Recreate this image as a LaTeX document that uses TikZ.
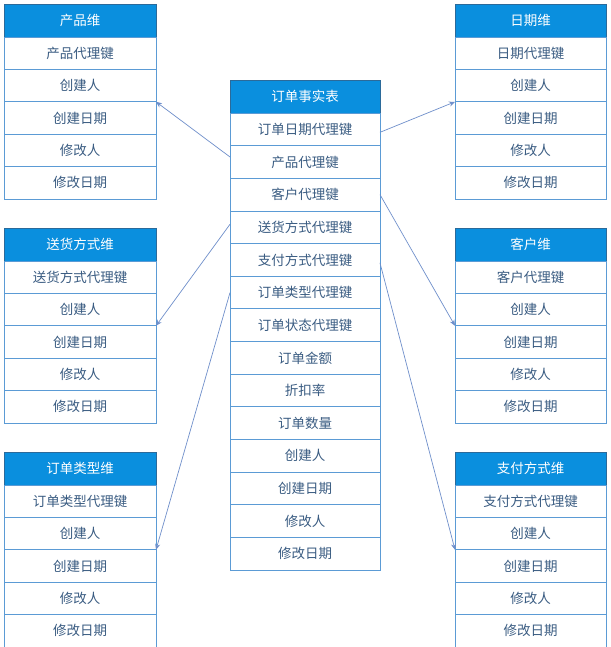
\documentclass[tikz,border=0pt]{standalone}
\usepackage{fontspec}
\setmainfont{Noto Sans CJK SC}
\usetikzlibrary{arrows.meta}
\definecolor{hdrfill}{HTML}{0A8FDE}
\definecolor{hdrline}{HTML}{2B6A9A}
\definecolor{rowline}{HTML}{5B9BD5}
\definecolor{rowtext}{HTML}{3A5C82}
\definecolor{arrowc}{HTML}{6F8FCB}
\tikzset{
  hdrbox/.style={draw=hdrline, fill=hdrfill, text=white, line width=0.9pt, inner sep=0pt, outer sep=0pt,
    font=\fontsize{13.5}{16}\selectfont},
  rowbox/.style={draw=rowline, fill=white, text=rowtext, line width=0.9pt, inner sep=0pt, outer sep=0pt,
    font=\fontsize{13.5}{16}\selectfont},
  link/.style={draw=arrowc, line width=0.7pt, -{Stealth[length=6pt,width=5pt]}}
}
\newcommand{\mktbl}[7]{% name, left x, top y, width, row height, header, rows
  \node[hdrbox, minimum width=#4pt, minimum height=33pt] (#1-0) at (#2+#4/2, #3+16.5) {#6};
  \foreach \t [count=\i] in {#7} {
    \node[rowbox, minimum width=#4pt, minimum height=#5pt] (#1-\i) at (#2+#4/2, {#3+33+(\i-0.5)*#5}) {\t};
  }
}
\begin{document}
\begin{tikzpicture}[x=1pt,y=-1pt]
\useasboundingbox[fill=white] (0,0) rectangle (610,647);
% left dimension tables
\mktbl{prod}{4}{4}{152}{32.4}{产品维}{产品代理键,创建人,创建日期,修改人,修改日期}
\mktbl{ship}{4}{228}{152}{32.4}{送货方式维}{送货方式代理键,创建人,创建日期,修改人,修改日期}
\mktbl{otyp}{4}{452}{152}{32.4}{订单类型维}{订单类型代理键,创建人,创建日期,修改人,修改日期}
% right dimension tables
\mktbl{date}{455}{4}{151}{32.4}{日期维}{日期代理键,创建人,创建日期,修改人,修改日期}
\mktbl{cust}{455}{228}{151}{32.4}{客户维}{客户代理键,创建人,创建日期,修改人,修改日期}
\mktbl{pay}{455}{452}{151}{32.4}{支付方式维}{支付方式代理键,创建人,创建日期,修改人,修改日期}
% fact table
\mktbl{fact}{230}{80}{150}{32.65}{订单事实表}{订单日期代理键,产品代理键,客户代理键,送货方式代理键,支付方式代理键,订单类型代理键,订单状态代理键,订单金额,折扣率,订单数量,创建人,创建日期,修改人,修改日期}
% links
\draw[link] ([yshift=5pt]fact-2.west) -- (prod-2.south east);
\draw[link] ([yshift=3pt]fact-4.west) -- (ship-2.south east);
\draw[link] (fact-6.west) -- (otyp-2.south east);
\draw[link] ([yshift=-3pt]fact-1.east) -- (date-2.south west);
\draw[link] (fact-3.east) -- (cust-2.south west);
\draw[link] ([yshift=-3pt]fact-5.east) -- (pay-2.south west);
\end{tikzpicture}
\end{document}
